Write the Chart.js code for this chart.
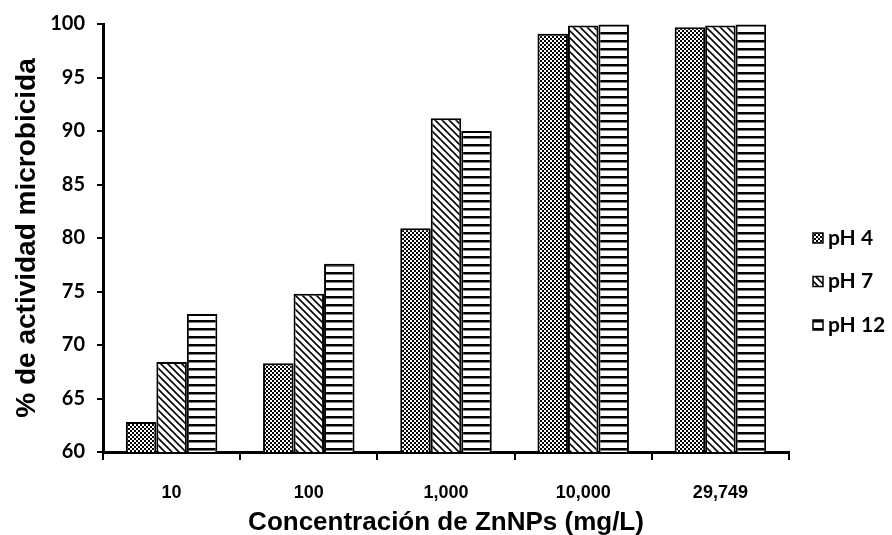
<!DOCTYPE html>
<html>
<head>
<meta charset="utf-8">
<script src="https://cdn.jsdelivr.net/npm/chart.js@4.4.1/dist/chart.umd.min.js"></script>
<style>
  html, body { margin: 0; padding: 0; background: #fff; }
  #wrap { width: 892px; height: 535px; }
</style>
</head>
<body>
<div id="wrap"><canvas id="myChart" width="892" height="535"></canvas></div>
<script>
// chart values
const concentrations = ['10', '100', '1,000', '10,000', '29,749'];
const ph4 = [62.8, 68.3, 80.9, 99.1, 99.7];
const ph7 = [68.4, 74.8, 91.2, 99.85, 99.85];
const ph12 = [72.9, 77.6, 90.0, 99.95, 99.95];
const seriesLabels = ['pH 4', 'pH 7', 'pH 12'];

// hatch fills, like the old excel patterns
function makePattern(size, draw) {
    let tile = document.createElement('canvas');
    tile.width = size;
    tile.height = size;
    let c = tile.getContext('2d');
    c.fillStyle = '#fff';
    c.fillRect(0, 0, size, size);
    c.fillStyle = '#000';
    c.strokeStyle = '#000';
    draw(c, size);
    return c.createPattern(tile, 'repeat');
}

// pH 4 - fine checkerboard
const checker = makePattern(4, function(c) {
    c.fillRect(0, 0, 2, 2);
    c.fillRect(2, 2, 2, 2);
});
// pH 7 - diagonal lines (\)
const diagonal = makePattern(7, function(c, s) {
    c.lineWidth = 1.6;
    c.beginPath();
    c.moveTo(-1, -1); c.lineTo(s + 1, s + 1);
    c.moveTo(-1, s - 1); c.lineTo(1, s + 1);
    c.moveTo(s - 1, -1); c.lineTo(s + 1, 1);
    c.stroke();
});
// pH 12 - horizontal lines
const horizontal = makePattern(8, function(c) {
    c.fillRect(0, 0, 8, 2.5);
});

// legend drawn next to the plot
const sideLegend = {
    id: 'sideLegend',
    afterDraw(chart) {
        const ctx = chart.ctx;
        const x = chart.chartArea.right + 24;
        ctx.save();
        ctx.font = 'bold 21px Lato';
        ctx.textBaseline = 'middle';
        chart.data.datasets.forEach(function(ds, i) {
            let y = 238 + i * 43.5;
            ctx.fillStyle = ds.backgroundColor;
            ctx.fillRect(x, y - 5, 10, 10);
            ctx.lineWidth = 1.5;
            ctx.strokeStyle = '#000';
            ctx.strokeRect(x, y - 5, 10, 10);
            ctx.fillStyle = '#000';
            ctx.fillText(ds.label, x + 15, y);
        });
        ctx.restore();
    }
};

const data = {
    labels: concentrations,
    datasets: [
        { label: seriesLabels[0], data: ph4, backgroundColor: checker },
        { label: seriesLabels[1], data: ph7, backgroundColor: diagonal },
        { label: seriesLabels[2], data: ph12, backgroundColor: horizontal }
    ].map(d => Object.assign(d, {
        borderColor: '#000',
        borderWidth: 2,
        borderSkipped: 'bottom',
        categoryPercentage: 0.667,
        barPercentage: 1.0
    }))
};

const config = {
    type: 'bar',
    data: data,
    plugins: [sideLegend],
    options: {
        responsive: false,
        animation: false,
        layout: { padding: { top: 14, right: 103, left: 6, bottom: 0 } },
        plugins: {
            legend: { display: false },
            tooltip: { enabled: false }
        },
        scales: {
            x: {
                grid: { drawOnChartArea: false, drawTicks: true, tickLength: 8, color: '#000', lineWidth: 2, offset: true },
                border: { display: true, color: '#000', width: 3 },
                ticks: { color: '#000', font: { family: 'Liberation Sans', weight: 'bold', size: 18 }, padding: 22 },
                title: { display: true, text: 'Concentración de ZnNPs (mg/L)', color: '#000',
                         font: { family: 'Liberation Sans', weight: 'bold', size: 26 }, padding: { top: 0, bottom: -3 } },
                afterFit: s => { s.height = 535 - 452; }
            },
            y: {
                min: 60,
                max: 100,
                ticks: { stepSize: 5, color: '#000', font: { family: 'Lato', weight: 'bold', size: 20 }, padding: 12 },
                grid: { drawOnChartArea: false, drawTicks: true, tickLength: 6, color: '#000', lineWidth: 2 },
                border: { display: true, color: '#000', width: 3 },
                title: { display: true, text: '% de actividad microbicida', color: '#000',
                         font: { family: 'Liberation Sans', weight: 'bold', size: 28 }, padding: { bottom: 4 } },
                afterFit: s => { s.width = 103 - 6; }
            }
        }
    }
};

const myChart = new Chart(document.getElementById('myChart'), config);
</script>
</body>
</html>
